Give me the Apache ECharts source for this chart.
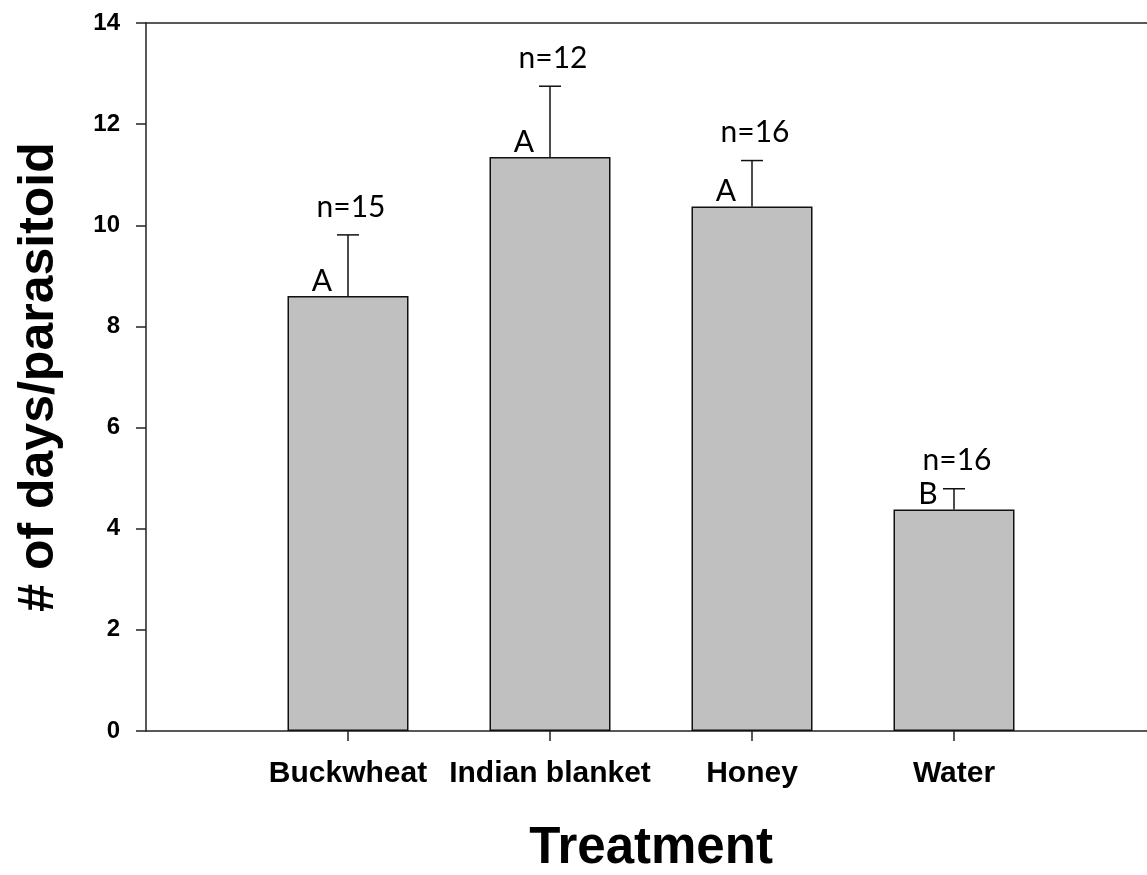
<!DOCTYPE html>
<html>
<head>
<meta charset="utf-8">
<script src="https://cdn.jsdelivr.net/npm/echarts@6/dist/echarts.min.js"></script>
<style>html,body{margin:0;padding:0;background:#fff;overflow:hidden}#chart{width:1147px;height:875px}</style>
</head>
<body>
<div id="chart"></div>
<script>
var categories = ['', 'Buckwheat', 'Indian blanket', 'Honey', 'Water', ''];
var means = [null, 8.6, 11.35, 10.37, 4.38, null];
var errUpper = [null, 9.81, 12.75, 11.28, 4.79, null];
var nLabels = ['', 'n=15', 'n=12', 'n=16', 'n=16', ''];
var groupLetters = ['', 'A', 'A', 'A', 'B', ''];
var yTicks = [0, 2, 4, 6, 8, 10, 12, 14];

var chart = echarts.init(document.getElementById('chart'));
var axisColor = '#222';
var labelFont = 'Lato, "Open Sans", sans-serif';
var boldFont = 'Arial, "Liberation Sans", sans-serif';

var customData = [];
for (var i = 0; i < categories.length; i++) {
  if (means[i] != null) customData.push([i, means[i], errUpper[i], nLabels[i], groupLetters[i]]);
}

chart.setOption({
  animation: false,
  backgroundColor: '#fff',
  grid: { left: 146, top: 23, width: 1010, height: 708, containLabel: false, outerBoundsMode: 'none' },
  xAxis: [{
    type: 'category',
    data: categories,
    boundaryGap: false,
    position: 'bottom',
    name: 'Treatment',
    nameLocation: 'middle',
    nameGap: 92,
    nameTextStyle: { fontFamily: boldFont, fontWeight: 'bold', fontSize: 51, color: '#000' },
    axisLine: { show: true, lineStyle: { color: axisColor, width: 1.5 } },
    axisTick: { show: true, length: 10, inside: false, lineStyle: { color: axisColor, width: 1.5 },
      interval: function (idx, val) { return val !== ''; } },
    axisLabel: { show: true, interval: 0, margin: 28, fontFamily: boldFont, fontWeight: 'bold', fontSize: 30, color: '#000' },
    splitLine: { show: false }
  }, {
    type: 'category',
    data: categories,
    boundaryGap: false,
    position: 'top',
    axisLine: { show: true, lineStyle: { color: axisColor, width: 1.5 } },
    axisTick: { show: false },
    axisLabel: { show: false },
    splitLine: { show: false }
  }],
  yAxis: {
    type: 'value',
    min: yTicks[0],
    max: yTicks[yTicks.length - 1],
    interval: 2,
    name: '# of days/parasitoid',
    nameLocation: 'middle',
    nameGap: 82,
    nameTextStyle: { fontFamily: boldFont, fontWeight: 'bold', fontSize: 50, color: '#000' },
    axisLine: { show: true, lineStyle: { color: axisColor, width: 1.5 } },
    axisTick: { show: true, length: 10, inside: false, lineStyle: { color: axisColor, width: 1.5 } },
    axisLabel: { margin: 26, fontFamily: boldFont, fontWeight: 'bold', fontSize: 24, color: '#000' },
    splitLine: { show: false }
  },
  series: [{
    type: 'bar',
    data: means,
    barWidth: 121,
    itemStyle: { color: '#c0c0c0', borderColor: '#111', borderWidth: 1.5 },
    z: 2
  }, {
    type: 'custom',
    data: customData,
    z: 3,
    renderItem: function (params, api) {
      var x = api.value(0);
      var pTop = api.coord([x, api.value(1)]);
      var pErr = api.coord([x, api.value(2)]);
      var cap = 11;
      return {
        type: 'group',
        children: [
          { type: 'line', shape: { x1: pTop[0], y1: pTop[1], x2: pErr[0], y2: pErr[1] }, style: { stroke: '#111', lineWidth: 1.5 } },
          { type: 'line', shape: { x1: pErr[0] - cap, y1: pErr[1], x2: pErr[0] + cap, y2: pErr[1] }, style: { stroke: '#111', lineWidth: 1.5 } },
          { type: 'text', x: pErr[0] + 3, y: pErr[1] - 28, style: { text: api.value(3), fill: '#000', font: '30px ' + labelFont, textAlign: 'center', textVerticalAlign: 'middle' } },
          { type: 'text', x: pTop[0] - 26, y: pTop[1] - 15, style: { text: api.value(4), fill: '#000', font: '30px ' + labelFont, textAlign: 'center', textVerticalAlign: 'middle' } }
        ]
      };
    }
  }]
});
</script>
</body>
</html>
